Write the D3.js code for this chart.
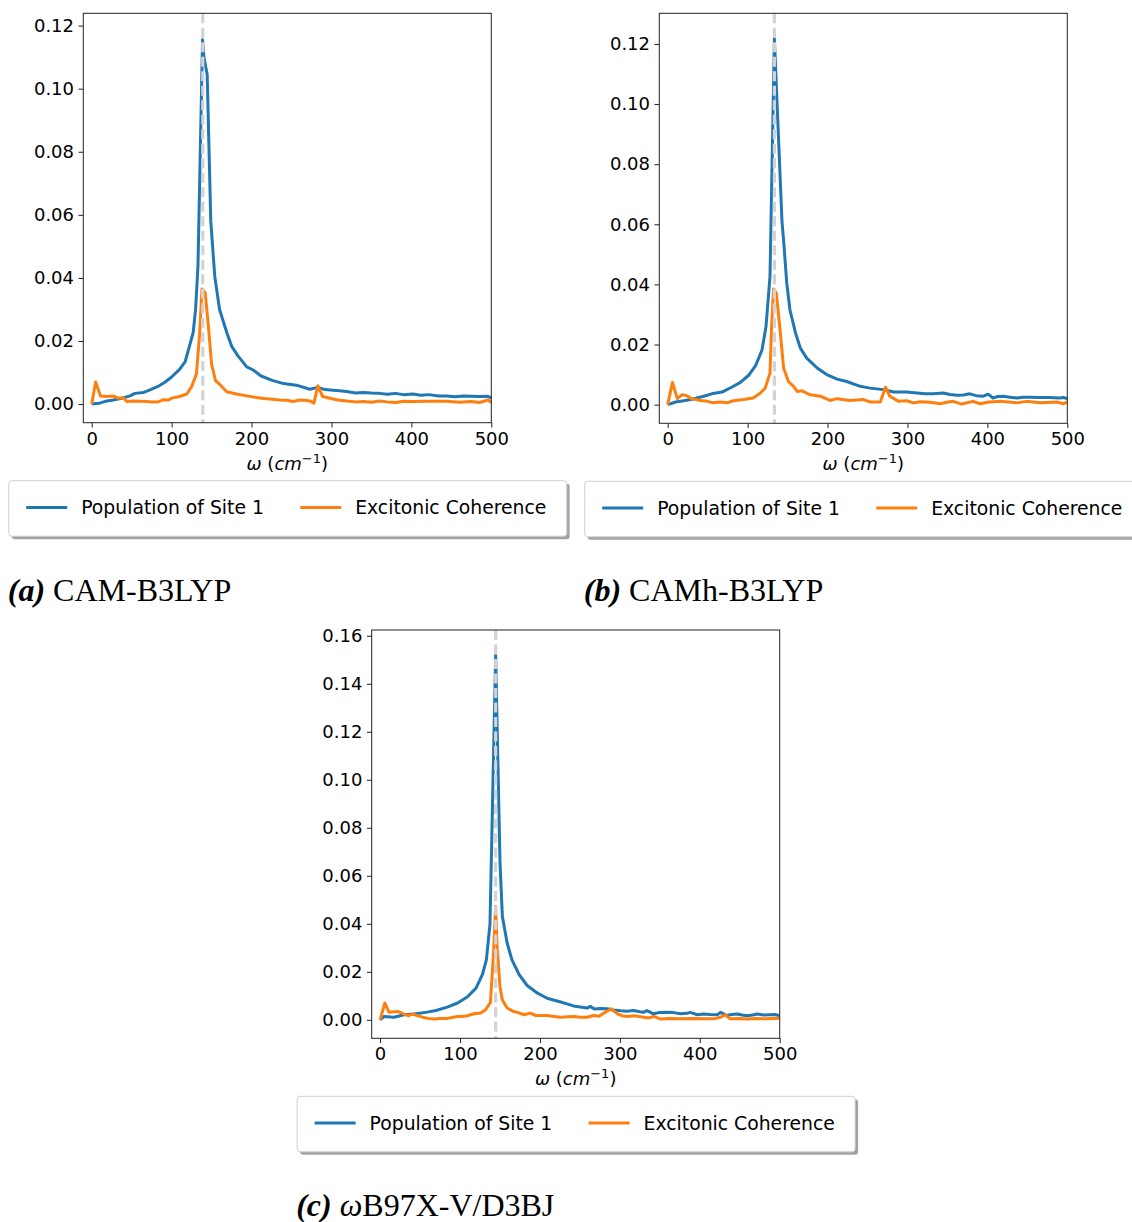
<!DOCTYPE html>
<html>
<head>
<meta charset="utf-8">
<script src="https://d3js.org/d3.v7.min.js"></script>
<style>
  body { margin: 0; background: #fff; }
  svg { display: block; }
</style>
</head>
<body>
<svg id="fig" width="1132" height="1222"></svg>
<script>
// --- data: [omega (cm^-1), amplitude] ---
const popA = [[0,0],[5,0.0002],[10,0.0003],[15,0.0007],[19,0.001],[27,0.0013],[33,0.0016],[40,0.002],[48,0.0026],[54,0.0034],[65,0.0037],[73,0.0045],[83,0.0056],[92,0.007],[100,0.0086],[110,0.011],[117,0.0135],[123,0.019],[127,0.0227],[130,0.030],[133,0.044],[138.7,0.1155],[140.4,0.110],[144.5,0.1045],[149,0.058],[154,0.0405],[160,0.030],[169,0.0227],[175,0.0184],[183,0.0153],[194,0.0118],[202,0.0108],[212,0.0089],[225,0.0076],[240,0.0065],[256,0.006],[273,0.0047],[283,0.0053],[292,0.0046],[302,0.0044],[310,0.0042],[319,0.004],[330,0.0035],[340,0.0037],[350,0.0035],[360,0.0034],[370,0.0031],[380,0.0034],[390,0.003],[402,0.0032],[412,0.0028],[422,0.003],[434,0.0026],[444,0.0026],[455,0.0023],[465,0.0026],[475,0.0025],[485,0.0024],[495,0.0025],[500,0.002]];
const cohA = [[0,0],[5,0.007],[11,0.0026],[19,0.0024],[27,0.0026],[33,0.0019],[40,0.0019],[44,0.0008],[52,0.001],[60,0.0009],[69,0.0008],[76,0.0007],[83,0.0007],[90,0.0014],[96,0.0013],[100,0.0019],[110,0.0024],[119,0.0032],[125,0.0055],[131,0.0095],[135,0.022],[138,0.0365],[142,0.0353],[146,0.0248],[150,0.0126],[155,0.0074],[160,0.0063],[169,0.0039],[181,0.0032],[194,0.0026],[206,0.0021],[215,0.0018],[223,0.0016],[235,0.0013],[244,0.0012],[252,0.0008],[260,0.0013],[266,0.0012],[273,0.001],[278,0.0003],[283,0.0058],[289,0.0024],[302,0.0016],[310,0.0012],[319,0.001],[330,0.0007],[340,0.0008],[350,0.0006],[360,0.001],[370,0.0007],[381,0.0005],[390,0.0009],[402,0.0008],[420,0.0009],[444,0.0009],[460,0.0006],[475,0.0008],[485,0.0005],[496,0.0013],[500,0.0005]];

const popB = [[0,0],[10,0.0009],[20,0.0013],[32,0.0019],[45,0.0028],[55,0.0036],[68,0.0042],[80,0.0058],[91,0.0074],[101,0.0097],[110,0.013],[118,0.0182],[123,0.026],[128,0.0426],[133.5,0.1217],[143,0.061],[145,0.0547],[149,0.0404],[153,0.0315],[160,0.0238],[166,0.0188],[174,0.0155],[187,0.0122],[199,0.01],[212,0.0085],[224,0.0077],[241,0.0061],[253,0.0055],[270,0.005],[283,0.0042],[299,0.0042],[312,0.0039],[322,0.0036],[332,0.0036],[345,0.0039],[353,0.0034],[362,0.0031],[370,0.0032],[378,0.0036],[386,0.003],[395,0.0028],[401,0.0035],[407,0.0022],[413,0.0027],[420,0.0028],[428,0.0025],[437,0.0022],[445,0.0025],[453,0.0025],[465,0.0024],[478,0.0024],[490,0.0022],[495,0.0024],[500,0.002]];
const cohB = [[0,0],[6,0.0074],[12,0.002],[18,0.0033],[24,0.003],[30,0.002],[41,0.0014],[50,0.0011],[57,0.0006],[66,0.0009],[74,0.0006],[82,0.0013],[95,0.0017],[107,0.0022],[116,0.0039],[122,0.0055],[128,0.0105],[130,0.026],[132.5,0.0385],[136,0.037],[141,0.0238],[145,0.0122],[151,0.0077],[157.5,0.0061],[162,0.0044],[168,0.0046],[178,0.0033],[191,0.0028],[203,0.0014],[212,0.002],[228,0.0014],[245,0.0017],[253,0.0009],[266,0.0009],[272.5,0.0058],[278,0.0028],[289,0.0011],[299,0.0013],[307.5,0.0006],[316,0.001],[324,0.0009],[333,0.0006],[341,0.0003],[349,0.0008],[357,0.0011],[368,0.0002],[382,0.0011],[391,0.0003],[400,0.0008],[416,0.0011],[437,0.0006],[449,0.0011],[466,0.0006],[487,0.0009],[495,0.0003],[500,0.0009]];

const popC = [[0,0],[5,0.0014],[17.5,0.0011],[30,0.0021],[42.5,0.0024],[59,0.0032],[70,0.0039],[84,0.0053],[97,0.007],[109,0.0095],[120,0.0132],[128,0.0188],[133,0.025],[137.5,0.040],[144.6,0.152],[150,0.066],[153,0.043],[159,0.032],[165,0.025],[174,0.0188],[184,0.0143],[197,0.0111],[209,0.009],[226,0.0074],[242,0.0058],[259,0.0049],[263,0.0056],[268,0.0045],[276,0.0047],[284,0.0046],[292,0.0041],[301,0.0038],[309,0.0036],[317,0.0039],[325,0.0034],[330,0.0032],[334,0.0038],[342,0.0025],[350,0.0031],[359,0.0032],[367,0.003],[376,0.0025],[384,0.0027],[388,0.0031],[397,0.0021],[405,0.0024],[413,0.0022],[422,0.0021],[426,0.0031],[434,0.0018],[440,0.0022],[447,0.0024],[453,0.002],[459,0.0017],[466,0.002],[472,0.0024],[480,0.002],[488,0.0021],[494,0.0022],[500,0.0017]];
const cohC = [[0,0],[6,0.007],[11,0.0032],[22,0.0035],[30,0.0024],[36,0.0017],[40,0.0025],[47,0.0017],[53,0.0011],[60,0.0006],[67.5,0.0003],[75,0.0005],[84,0.0006],[90,0.001],[97,0.0014],[103,0.0014],[109,0.0017],[117.5,0.0025],[126,0.0028],[132,0.0042],[138,0.0072],[142,0.028],[144.5,0.0473],[146.5,0.030],[150,0.0139],[153,0.0083],[159,0.0049],[166,0.0036],[172,0.0031],[180,0.0021],[188,0.0028],[195,0.0018],[209,0.0018],[218,0.0014],[226,0.0011],[235,0.0013],[242.5,0.0014],[250,0.0011],[259,0.0011],[267.5,0.0018],[274,0.0015],[280,0.0028],[289,0.0046],[297,0.0025],[303,0.0017],[309,0.0014],[318,0.0017],[330,0.0011],[336,0.0008],[342.5,0.0014],[351,0.0003],[360,0.0005],[376,0.0004],[392.5,0.0006],[405,0.0004],[417.5,0.0004],[426,0.0011],[432,0.0021],[438,0.0004],[450,0.0005],[459,0.0003],[470,0.0005],[484,0.0004],[500,0.0007]];

const peakLines = [139, 133.5, 144.6];     // gray dashed markers
const xTicks = [0, 100, 200, 300, 400, 500];
const yTicksAB = [0, 0.02, 0.04, 0.06, 0.08, 0.10, 0.12];
const yTicksC = [0, 0.02, 0.04, 0.06, 0.08, 0.10, 0.12, 0.14, 0.16];
const seriesNames = ["Population of Site 1", "Excitonic Coherence"];
const captionTags = ["(a)", "(b)", "(c)"];
const captionNames = ["CAM-B3LYP", "CAMh-B3LYP", "\u03c9B97X-V/D3BJ"];

const BLUE = "#1f77b4";
const ORANGE = "#ff7f0e";
const LW = 3;

const svg = d3.select("#fig");
svg.append("rect").attr("width", 1132).attr("height", 1222).attr("fill", "#fff");

// layout of the three axes (pixel boxes) and their limits
const panels = [
    { left: 83.3, top: 13.3, w: 408, h: 409.4, ylim: [-0.0059, 0.1239], yTicks: yTicksAB, pop: popA, coh: cohA, peak: peakLines[0], capY: 601 },
    { left: 659.3, top: 13.3, w: 408, h: 410, ylim: [-0.0062, 0.1302], yTicks: yTicksAB, pop: popB, coh: cohB, peak: peakLines[1], capY: 601 },
    { left: 371.7, top: 630, w: 408, h: 408.3, ylim: [-0.0077, 0.1624], yTicks: yTicksC, pop: popC, coh: cohC, peak: peakLines[2], capY: 1216 }
];

const FONT = "DejaVu Sans";

function drawPanel(p, i) {
    const x = d3.scaleLinear().domain([-10.5, 500]).range([0, p.w]);
    const y = d3.scaleLinear().domain(p.ylim).range([p.h, 0]);
    const g = svg.append("g").attr("transform", `translate(${p.left},${p.top})`);

    const clipId = "clip" + i;
    g.append("clipPath").attr("id", clipId)
        .append("rect").attr("width", p.w).attr("height", p.h);

    const line = d3.line().x(d => x(d[0])).y(d => y(d[1]));
    const plot = g.append("g").attr("clip-path", `url(#${clipId})`);
    plot.append("path").datum(p.pop)
        .attr("d", line).attr("fill", "none")
        .attr("stroke", BLUE).attr("stroke-width", LW).attr("stroke-linejoin", "round");
    plot.append("path").datum(p.coh)
        .attr("d", line).attr("fill", "none")
        .attr("stroke", ORANGE).attr("stroke-width", LW).attr("stroke-linejoin", "round");
    // dashed marker on top
    plot.append("line")
        .attr("x1", x(p.peak)).attr("x2", x(p.peak))
        .attr("y1", 0).attr("y2", p.h)
        .attr("stroke", "#d3d3d3").attr("stroke-width", 3.2)
        .attr("stroke-dasharray", "10,4.5");

    // axes
    const xAxis = d3.axisBottom(x).tickValues(xTicks).tickSize(4.8).tickPadding(4.5).tickFormat(d3.format("d"));
    const yAxis = d3.axisLeft(y).tickValues(p.yTicks).tickSize(4.8).tickPadding(4.5).tickFormat(d3.format(".2f"));
    const gx = g.append("g").attr("transform", `translate(0,${p.h})`).call(xAxis);
    const gy = g.append("g").call(yAxis);
    [gx, gy].forEach(a => {
        a.select(".domain").remove();
        a.selectAll(".tick line").attr("stroke", "#222").attr("stroke-width", 1);
        a.selectAll(".tick text").attr("font-family", FONT).attr("font-size", 18).attr("fill", "#000");
    });

    g.append("rect").attr("width", p.w).attr("height", p.h)
        .attr("fill", "none").attr("stroke", "#222").attr("stroke-width", 1);

    // x label: omega (cm^-1)
    const lab = g.append("text")
        .attr("x", p.w / 2).attr("y", p.h + 47)
        .attr("text-anchor", "middle")
        .attr("font-family", FONT).attr("font-size", 18).attr("fill", "#000");
    lab.append("tspan").attr("font-style", "italic").text("\u03c9");
    lab.append("tspan").text(" (");
    lab.append("tspan").attr("font-style", "italic").text("cm");
    lab.append("tspan").attr("font-size", 13).attr("dy", -7).text("\u22121");
    lab.append("tspan").attr("dy", 7).text(")");

    // legend with shadow
    const lg = g.append("g").attr("transform", `translate(-74.6,${p.h + 58})`);
    const lw = 558, lh = 55.5;
    lg.append("rect").attr("x", 3).attr("y", 3).attr("width", lw).attr("height", lh)
        .attr("rx", 3).attr("fill", "#999").attr("opacity", 0.9);
    lg.append("rect").attr("width", lw).attr("height", lh).attr("rx", 3)
        .attr("fill", "#fff").attr("stroke", "#d0d0d0").attr("stroke-width", 1);
    const entryX = [17.5, 291.5];
    [BLUE, ORANGE].forEach((c, k) => {
        lg.append("line").attr("x1", entryX[k]).attr("x2", entryX[k] + 41)
            .attr("y1", lh / 2 - 1).attr("y2", lh / 2 - 1)
            .attr("stroke", c).attr("stroke-width", LW);
        lg.append("text").attr("x", entryX[k] + 55).attr("y", lh / 2 + 5.5)
            .attr("font-family", FONT).attr("font-size", 18.8).attr("fill", "#000")
            .text(seriesNames[k]);
    });

    // caption
    const capX = p.left - 75.5;
    const cap = svg.append("text").attr("x", capX).attr("y", p.capY)
        .attr("font-family", "Liberation Serif").attr("font-size", 32).attr("fill", "#000");
    cap.append("tspan").attr("font-weight", "bold").attr("font-style", "italic").text(captionTags[i]);
    cap.append("tspan").text(" ");
    const nm = captionNames[i];
    if (nm.startsWith("\u03c9")) {
        cap.append("tspan").attr("font-style", "italic").text("\u03c9");
        cap.append("tspan").text(nm.slice(1));
    } else {
        cap.append("tspan").text(nm);
    }
}

panels.forEach(drawPanel);
</script>
</body>
</html>
